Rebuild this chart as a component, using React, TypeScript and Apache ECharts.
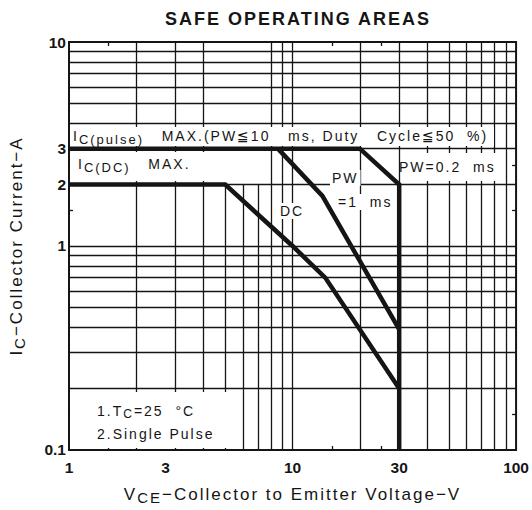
import React, { useEffect, useRef } from 'react';
import * as echarts from 'echarts';

// ---------------- data ----------------
const xRange = [1, 100];
const yRange = [0.1, 10];
const xTickValues = [1, 3, 10, 30, 100];
const yTickValues = [0.1, 1, 2, 3, 10];
const xBorderTicks = [1.5, 15, 25];
const yBorderTicks = [0.15, 1.5, 2.5];

const xGridFull = [2, 3, 4, 8, 9, 10, 20, 30, 40, 50, 60, 70, 80, 90];
const xGridLower = [5, 6, 7];
const xGridLowerTop = 2;
const yGrid = [0.2, 0.3, 0.4, 0.5, 0.6, 0.7, 0.8, 0.9, 1, 2, 3, 4, 5, 6, 7, 8, 9];

// VCE (V), IC (A)
const icPulseMax = [[1, 3], [20, 3], [30, 2], [30, 0.1]];
const pw1ms = [[8.6, 3], [13.6, 1.76], [30, 0.39]];
const dcLimit = [[1, 2], [5, 2], [10, 1], [14, 0.7], [30, 0.2]];

// ---------------- style ----------------
const INK = '#151515';
const FONT = 'Liberation Sans, DejaVu Sans, Noto Sans CJK JP, sans-serif';
const LS = 2; // letter spacing applied through CSS
const SUBDROP = 6;

type Part = [string, 'n' | 's'];
function buildRich(
  parts: Part[],
  size: number,
  subSize: number,
  weight = 'normal',
  prefix = 'r',
  centered = false
) {
  let text = '';
  const rich: Record<string, any> = {};
  parts.forEach(([t, k], i) => {
    const name = prefix + i;
    const n = Array.from(t).length;
    const extra = LS * n;
    rich[name] = {
      fontSize: k === 's' ? subSize : size,
      fontFamily: FONT,
      fontWeight: weight,
      color: INK,
      padding: centered
        ? [k === 's' ? SUBDROP : 0, extra / 2, 0, extra / 2]
        : [k === 's' ? SUBDROP : 0, extra, 0, 0],
    };
    text += `{${name}|${t}}`;
  });
  return { text, rich };
}

const pulseLabel = buildRich(
  [['I', 'n'], ['C(pulse)', 's'], ['   MAX.(PW≦10   ms, Duty   Cycle≦50  %)', 'n']],
  14, 13, 'normal', 'p'
);
const dcMaxLabel = buildRich([['I', 'n'], ['C(DC)', 's'], ['   MAX.', 'n']], 14, 13, 'normal', 'd');
const noteLabel = buildRich([['1.T', 'n'], ['C', 's'], ['=25  °C', 'n']], 14, 12, 'normal', 'c');
const xName = buildRich(
  [['V', 'n'], ['CE', 's'], ['−Collector to Emitter Voltage−V', 'n']],
  17, 15, 'normal', 'x', true
);
const yName = buildRich(
  [['I', 'n'], ['C', 's'], ['−Collector Current−A', 'n']],
  17, 15, 'normal', 'y', true
);

const css = `
#soa text { letter-spacing: ${LS}px; }
#soa text[style*="15.5px"] { letter-spacing: 0px; }
`;

function fmt(v: number) {
  return String(+Number(v).toPrecision(3));
}

export default function App() {
  const ref = useRef<HTMLDivElement>(null);
  useEffect(() => {
    document.body.style.margin = '0';
    const chart = echarts.init(ref.current!, null, { renderer: 'svg' });

    const gridData: any[] = [];
    xGridFull.forEach((x) => gridData.push({ coords: [[x, yRange[0]], [x, yRange[1]]] }));
    xGridLower.forEach((x) => gridData.push({ coords: [[x, yRange[0]], [x, xGridLowerTop]] }));
    yGrid.forEach((y) => gridData.push({ coords: [[xRange[0], y], [xRange[1], y]] }));

    const tickStyle = { show: true, inside: true, length: 4, lineStyle: { color: INK, width: 1.3 } };
    const labelBase = { fontSize: 15.5, fontWeight: 'bold', fontFamily: FONT, color: INK };

    const curve = (name: string, data: number[][]) => ({
      name,
      type: 'line',
      data,
      showSymbol: false,
      symbol: 'none',
      z: 10,
      silent: true,
      lineStyle: { color: INK, width: 4.5, join: 'miter', cap: 'butt' },
    });

    const txt = (x: number, y: number, style: any) => ({
      type: 'text',
      x,
      y,
      z: 6,
      silent: true,
      style: {
        fontFamily: FONT,
        fontSize: 14,
        fill: INK,
        align: 'left',
        verticalAlign: 'middle',
        ...style,
      },
    });
    const mask = (x: number, y: number, w: number, h: number) => ({
      type: 'rect',
      z: 5,
      silent: true,
      shape: { x, y, width: w, height: h },
      style: { fill: '#ffffff' },
    });

    chart.setOption({
      animation: false,
      backgroundColor: '#ffffff',
      grid: {
        left: 68,
        top: 42,
        right: 13,
        bottom: 60,
        show: true,
        borderColor: INK,
        borderWidth: 2,
        backgroundColor: 'transparent',
      },
      xAxis: [
        {
          type: 'log',
          logBase: 10,
          min: xRange[0],
          max: xRange[1],
          position: 'bottom',
          axisLine: { show: false },
          splitLine: { show: false },
          axisTick: { ...tickStyle, customValues: xBorderTicks },
          axisLabel: {
            ...labelBase,
            margin: 10,
            customValues: xTickValues,
            showMinLabel: true,
            showMaxLabel: true,
            formatter: (v: number) => (fmt(v) === '3' ? '{l|3}' : fmt(v)),
            rich: { l: { ...labelBase, padding: [0, 20, 0, 0] } },
          },
          name: xName.text,
          nameLocation: 'middle',
          nameGap: 34,
          nameTextStyle: { rich: xName.rich },
        },
        {
          type: 'log',
          logBase: 10,
          min: xRange[0],
          max: xRange[1],
          position: 'top',
          axisLine: { show: false },
          splitLine: { show: false },
          axisTick: { ...tickStyle, customValues: xBorderTicks },
          axisLabel: { show: false },
        },
      ],
      yAxis: [
        {
          type: 'log',
          logBase: 10,
          min: yRange[0],
          max: yRange[1],
          position: 'left',
          axisLine: { show: false },
          splitLine: { show: false },
          axisTick: { ...tickStyle, customValues: yBorderTicks },
          axisLabel: {
            ...labelBase,
            margin: 3,
            customValues: yTickValues,
            showMinLabel: true,
            showMaxLabel: true,
            formatter: (v: number) => fmt(v),
          },
          name: yName.text,
          nameLocation: 'middle',
          nameGap: 42,
          nameTextStyle: { rich: yName.rich },
        },
        {
          type: 'log',
          logBase: 10,
          min: yRange[0],
          max: yRange[1],
          position: 'right',
          axisLine: { show: false },
          splitLine: { show: false },
          axisTick: { ...tickStyle, customValues: yBorderTicks },
          axisLabel: { show: false },
        },
      ],
      graphic: {
        elements: [
          {
            type: 'text',
            x: 298,
            y: 19,
            z: 6,
            silent: true,
            style: {
              text: 'SAFE OPERATING AREAS',
              fontFamily: FONT,
              fontSize: 18,
              fontWeight: 'bold',
              fill: INK,
              align: 'center',
              verticalAlign: 'middle',
            },
          },
          mask(70, 127, 424, 19),
          mask(70, 152, 148, 29),
          mask(404, 153, 101, 28),
          mask(70, 392, 166, 56),
          txt(73, 136, { text: pulseLabel.text, rich: pulseLabel.rich }),
          txt(78, 164, { text: dcMaxLabel.text, rich: dcMaxLabel.rich }),
          txt(399, 167, { text: 'PW=0.2  ms' }),
          txt(330, 178, { text: 'PW', backgroundColor: '#fff', padding: [1, 2 + LS * 2, 1, 2] }),
          txt(336, 202, { text: '=1  ms', backgroundColor: '#fff', padding: [1, 2 + LS * 6, 1, 2] }),
          txt(278, 211, { text: 'DC', backgroundColor: '#fff', padding: [1, 2 + LS * 2, 1, 2] }),
          txt(97, 411, { text: noteLabel.text, rich: noteLabel.rich }),
          txt(97, 434, { text: '2.Single Pulse' }),
        ],
      },
      series: [
        {
          name: 'grid',
          type: 'lines',
          coordinateSystem: 'cartesian2d',
          xAxisIndex: 0,
          yAxisIndex: 0,
          silent: true,
          z: 1,
          symbol: 'none',
          effect: { show: false },
          lineStyle: { color: INK, width: 1.3, opacity: 1, curveness: 0 },
          data: gridData,
        },
        curve('IC(pulse) MAX / PW=0.2 ms', icPulseMax),
        curve('PW=1 ms', pw1ms),
        curve('DC', dcLimit),
      ],
    });
    return () => chart.dispose();
  }, []);

  return (
    <>
      <style>{css}</style>
      <div id="soa" ref={ref} style={{ width: 532, height: 510 }} />
    </>
  );
}
